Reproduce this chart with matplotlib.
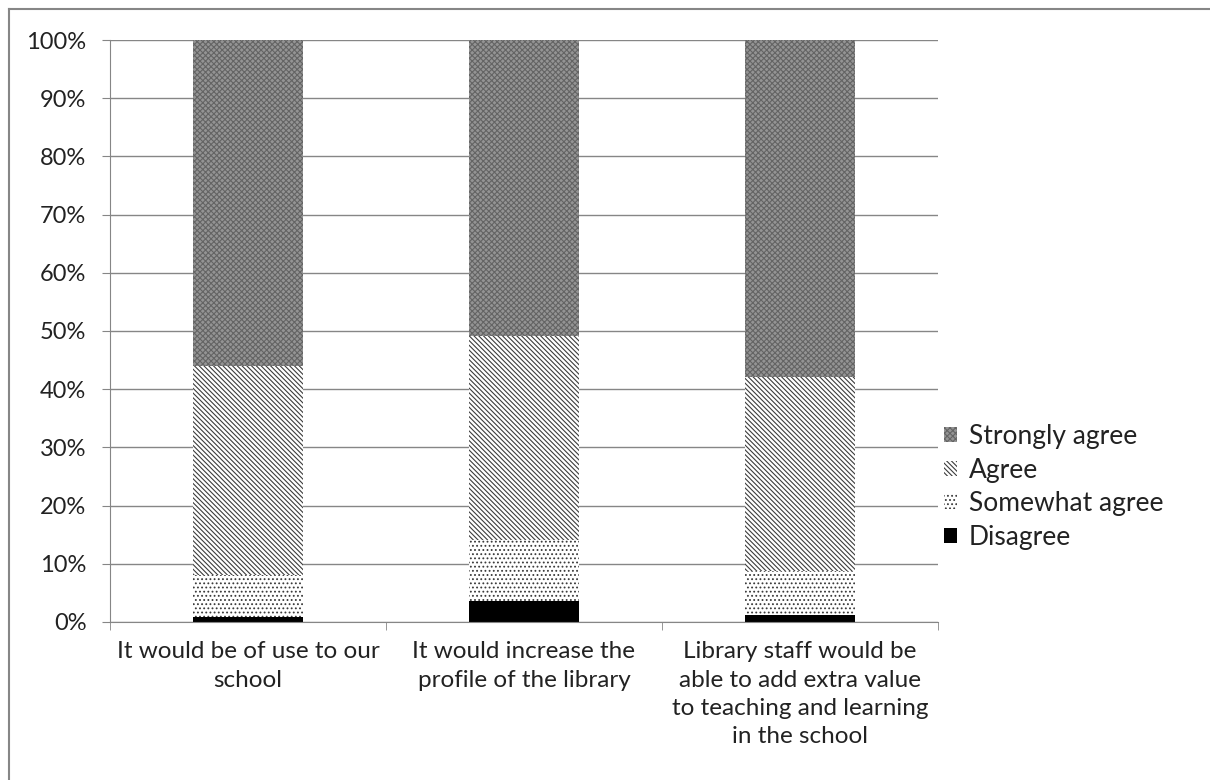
import numpy as np
import matplotlib.pyplot as plt
from matplotlib.lines import Line2D

# Survey responses (share of respondents) per statement
categories = [
    "It would be of use to our\nschool",
    "It would increase the\nprofile of the library",
    "Library staff would be\nable to add extra value\nto teaching and learning\nin the school",
]
disagree = [0.8, 3.6, 1.2]
somewhat_agree = [7.2, 10.5, 7.6]
agree = [36.0, 35.0, 33.3]
strongly_agree = [56.0, 50.9, 57.9]

plt.rcParams['font.family'] = ['Lato', 'DejaVu Sans']
plt.rcParams['hatch.linewidth'] = 0.8

fig = plt.figure(figsize=(12.1, 7.8), dpi=100)
ax = fig.add_axes([0.0909, 0.2026, 0.6843, 0.7461])

x = np.arange(len(categories))
w = 0.4
bottom = np.zeros(len(categories))

series = [
    ("Disagree", disagree, dict(facecolor='black', edgecolor='black', hatch=None)),
    ("Somewhat agree", somewhat_agree, dict(facecolor='white', edgecolor='#3a3a3a', hatch='....')),
    ("Agree", agree, dict(facecolor='white', edgecolor='#3c3c3c', hatch='\\\\\\\\\\\\\\')),
    ("Strongly agree", strongly_agree, dict(facecolor='#949494', edgecolor='#646464', hatch='xxxxxx')),
]

handles = []
for name, vals, style in series:
    b = ax.bar(x, vals, w, bottom=bottom, label=name, linewidth=0, **style)
    handles.append(b)
    bottom += np.array(vals)

ax.set_xlim(-0.5, len(categories) - 0.5)
ax.set_ylim(0, 100)
ax.set_yticks(np.arange(0, 101, 10))
ax.set_yticklabels([f"{v}%" for v in range(0, 101, 10)], fontsize=17, color='#222222')
ax.set_xticks(x)
ax.set_xticklabels(categories, fontsize=17.5, linespacing=1.42, color='#222222')
ax.set_xticks(np.arange(-0.5, len(categories)), minor=True)
ax.tick_params(axis='x', which='major', length=0, pad=14)
ax.tick_params(axis='x', which='minor', length=6, color='#868686')
ax.tick_params(axis='y', length=6, color='#868686', pad=11)

ax.yaxis.grid(True, color='#868686', linewidth=1)
ax.set_axisbelow(True)
for side in ['top', 'right']:
    ax.spines[side].set_visible(False)
for side in ['left', 'bottom']:
    ax.spines[side].set_color('#868686')

leg = ax.legend(handles[::-1], [s[0] for s in series][::-1],
                loc='center left', bbox_to_anchor=(0.978, 0.232), frameon=False,
                fontsize=19, handlelength=0.5, handleheight=0.5,
                labelspacing=0.32, handletextpad=0.45)
for t in leg.get_texts():
    t.set_color('#222222')

# chart border (top and left edges)
fig.lines.append(Line2D([0.0074, 0.0074], [0.0, 0.9885], transform=fig.transFigure,
                        color='#868686', linewidth=1.5))
fig.lines.append(Line2D([0.0074, 1.0], [0.9885, 0.9885], transform=fig.transFigure,
                        color='#868686', linewidth=1.5))

fig.savefig('out.png', dpi=100)
